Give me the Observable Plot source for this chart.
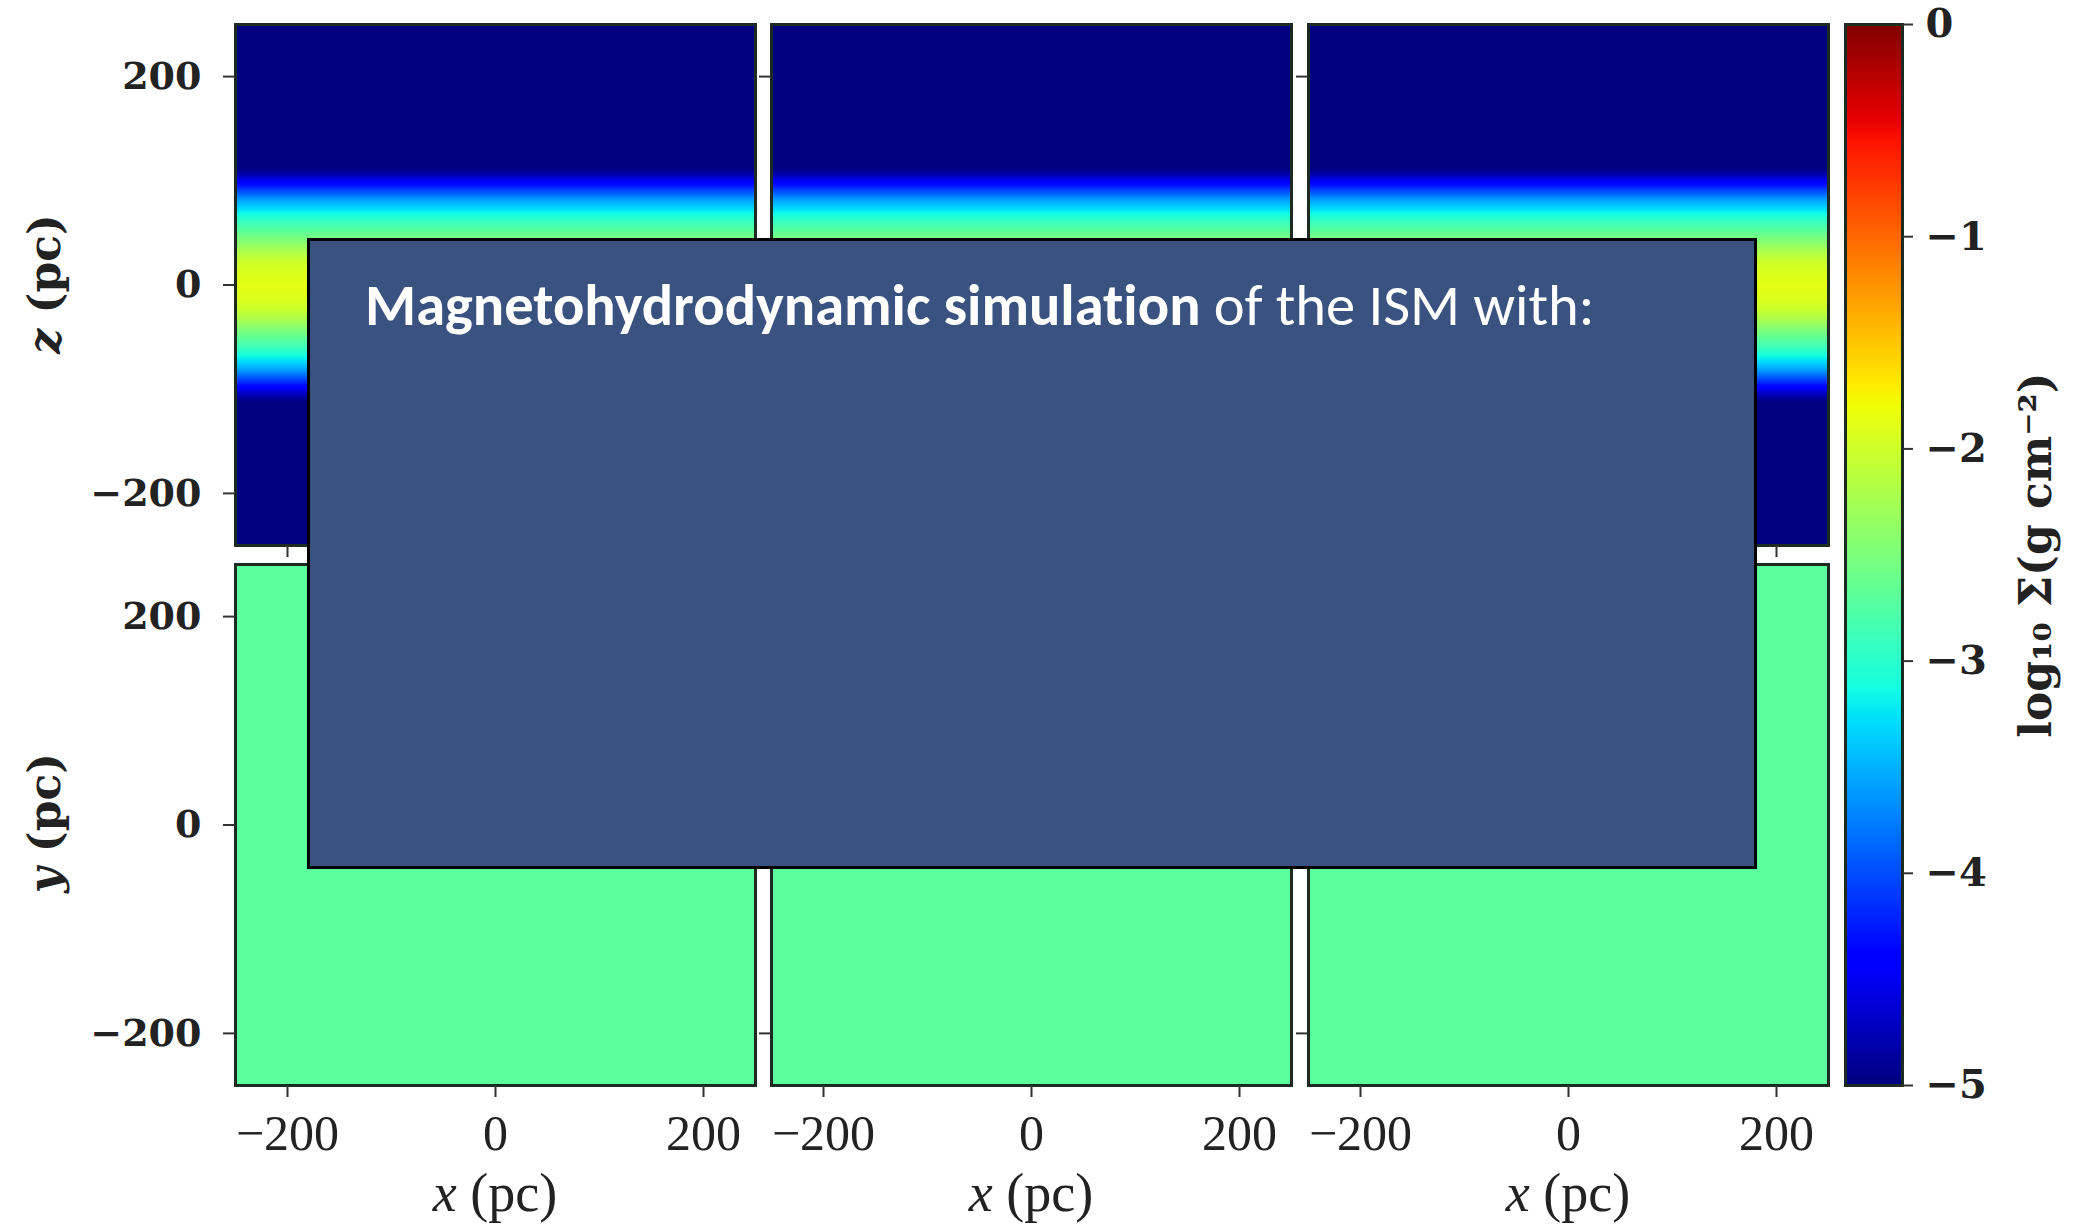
<!DOCTYPE html>
<html>
<head>
<meta charset="utf-8">
<script src="https://cdn.jsdelivr.net/npm/d3@7"></script>
<script src="https://cdn.jsdelivr.net/npm/@observablehq/plot@0.6"></script>
<style>
  html, body { margin: 0; padding: 0; background: #fff; }
  #wrap { position: relative; width: 2074px; height: 1226px; overflow: hidden; background: #fff; }
  .pos { position: absolute; }
  .panel g[aria-label="y-axis tick label"] text { font-family: "DejaVu Serif", serif; font-weight: bold; font-size: 38px; fill: #222; }
  .panel g[aria-label="x-axis tick label"] text { font-family: "Liberation Serif", serif; font-size: 50px; fill: #222; }
  .cbar g[aria-label="y-axis tick label"] text { font-family: "DejaVu Serif", serif; font-weight: bold; font-size: 40px; fill: #222; }
  .ttl { position: absolute; white-space: nowrap; color: #222; transform: translate(-50%, -50%); line-height: 1.1; }
  .ttl.rot { transform: translate(-50%, -50%) rotate(-90deg); }
  #box { position: absolute; left: 307px; top: 238px; width: 1444px; height: 625px; background: #3A5280; border: 3px solid #000; }
  #boxtext { position: absolute; left: 365px; top: 276px; color: #fff; font-family: Carlito, Calibri, Lato, sans-serif; font-size: 58.5px; line-height: 1; white-space: nowrap; font-variant-ligatures: none; font-feature-settings: "liga" 0; }
</style>
</head>
<body>
<div id="wrap"></div>
<script>
// ---------- data ----------
const columns = [0, 1, 2];                 // three simulation snapshots
const rows = ["xz", "xy"];                 // edge-on (x–z) and face-on (x–y) projections
const axisTicks = [-200, 0, 200];
const colorbarTicks = [0, -1, -2, -3, -4, -5];
// vertical profile of log10 Σ in the edge-on panels
const zLevels =     [-250, -112, -105, -98, -90, -82, -72, -62, -52, -42, -32, -22, -12, 0, 12, 22, 32, 42, 52, 62, 72, 82, 90, 98, 105, 112, 250];
const sigmaLevels = [-5, -5, -4.75, -4.4, -4.0, -3.6, -3.25, -2.95, -2.7, -2.45, -2.2, -2.0, -1.92, -1.87, -1.92, -2.0, -2.2, -2.45, -2.7, -2.95, -3.25, -3.6, -4.0, -4.4, -4.75, -5, -5];
// face-on panels are uniform
const faceOnSigma = -2.7;
const boxEdges = [-250, 250];
const sigmaDomain = [-5, 0];
const colorbarLabel = "log\u2081\u2080 \u03a3(g cm\u207b\u00b2)";

// ---------- jet colormap ----------
const jetStops = [0, 0.11, 0.125, 0.34, 0.35, 0.375, 0.64, 0.65, 0.66, 0.89, 0.91, 1];
function seg(t, pts) {
  for (let i = 1; i < pts.length; i++) {
    if (t <= pts[i][0]) {
      const [t0, v0] = pts[i - 1], [t1, v1] = pts[i];
      return v0 + (v1 - v0) * (t - t0) / (t1 - t0);
    }
  }
  return pts[pts.length - 1][1];
}
function jet(t) {
  const r = seg(t, [[0, 0], [0.35, 0], [0.66, 1], [0.89, 1], [1, 0.5]]);
  const g = seg(t, [[0, 0], [0.125, 0], [0.375, 1], [0.64, 1], [0.91, 0], [1, 0]]);
  const b = seg(t, [[0, 0.5], [0.11, 1], [0.34, 1], [0.65, 0], [1, 0]]);
  return d3.rgb(r * 255, g * 255, b * 255).formatHex();
}
const colorScale = {
  type: "linear",
  domain: jetStops.map(f => sigmaDomain[0] + (sigmaDomain[1] - sigmaDomain[0]) * f),
  range: jetStops.map(jet),
  interpolate: "rgb",
  clamp: true
};
const fmt = d => d3.format("d")(d).replace("-", "\u2212");

// ---------- tables ----------
const edgeOn = zLevels.flatMap((z, i) => boxEdges.map(x => ({x, y: z, v: sigmaLevels[i]})));
const faceOn = boxEdges.flatMap(x => boxEdges.map(y => ({x, y, v: faceOnSigma})));

// ---------- layout ----------
const colLeft = [235, 771, 1308];
const rowTop = [24, 564];
const PW = 520, PH = 521;
const wrap = document.getElementById("wrap");

function panel(r, c) {
  const isLeft = c === 0, isBottom = r === 1;
  const ml = isLeft ? 235 : 16, mb = isBottom ? 90 : 16, mt = 3, mr = 3;
  const data = r === 0 ? edgeOn : faceOn;
  const p = Plot.plot({
    width: PW + ml + mr,
    height: PH + mt + mb,
    marginLeft: ml, marginRight: mr, marginTop: mt, marginBottom: mb,
    x: {domain: boxEdges},
    y: {domain: boxEdges},
    color: colorScale,
    style: {background: "transparent", overflow: "visible"},
    marks: [
      Plot.raster(data, {x: "x", y: "y", fill: "v", interpolate: "barycentric",
        x1: boxEdges[0], x2: boxEdges[1], y1: boxEdges[0], y2: boxEdges[1]}),
      Plot.frame({stroke: "#1c2a22", strokeWidth: 3}),
      Plot.axisY({ticks: axisTicks, tickSize: 12, tickPadding: 22, label: null, stroke: "#333", strokeWidth: 2,
        tickFormat: isLeft ? fmt : () => ""}),
      Plot.axisX({ticks: axisTicks, tickSize: 12, tickPadding: 17, label: null, stroke: "#333", strokeWidth: 2,
        tickFormat: isBottom ? fmt : () => ""})
    ]
  });
  p.classList.add("panel", "pos");
  p.style.left = (colLeft[c] - ml) + "px";
  p.style.top = (rowTop[r] - mt) + "px";
  wrap.appendChild(p);
}
rows.forEach((_, r) => columns.forEach(c => panel(r, c)));

// ---------- colorbar ----------
(function () {
  const left = 1845, w = 57, top = 24, h = 1061;
  const ml = 3, mt = 3, mr = 2074 - (left + w), mb = 30;
  const cb = Plot.plot({
    width: ml + w + mr, height: mt + h + mb,
    marginLeft: ml, marginRight: mr, marginTop: mt, marginBottom: mb,
    x: {domain: [0, 1], axis: null},
    y: {domain: sigmaDomain},
    color: colorScale,
    style: {background: "transparent", overflow: "visible"},
    marks: [
      Plot.raster({x1: 0, x2: 1, y1: sigmaDomain[0], y2: sigmaDomain[1], fill: (x, y) => y, pixelSize: 1}),
      Plot.frame({stroke: "#1c2a22", strokeWidth: 3}),
      Plot.axisY({anchor: "right", ticks: colorbarTicks, tickSize: 10, tickPadding: 13, label: null,
        stroke: "#333", strokeWidth: 2, tickFormat: fmt}),
      Plot.text([colorbarLabel], {frameAnchor: "right", dx: 134, rotate: -90, textAnchor: "middle",
        fontFamily: "DejaVu Serif", fontWeight: "bold", fontSize: 44, fill: "#222"})
    ]
  });
  cb.classList.add("cbar", "pos");
  cb.style.left = (left - ml) + "px";
  cb.style.top = (top - mt) + "px";
  wrap.appendChild(cb);
})();

// ---------- axis titles ----------
function title(html, x, y, cls, font) {
  const d = document.createElement("div");
  d.className = "ttl " + cls;
  d.style.left = x + "px"; d.style.top = y + "px";
  d.style.font = font;
  d.innerHTML = html;
  wrap.appendChild(d);
}
title("<i>z</i> (pc)", 44, 284, "rot", "bold 44px 'DejaVu Serif', serif");
title("<i>y</i> (pc)", 44, 823, "rot", "bold 44px 'DejaVu Serif', serif");
colLeft.forEach(l => title("<i>x</i> (pc)", l + PW / 2, 1193, "", "54px 'Liberation Serif', serif"));

// ---------- overlay box ----------
const box = document.createElement("div"); box.id = "box"; wrap.appendChild(box);
const bt = document.createElement("div"); bt.id = "boxtext";
bt.innerHTML = "<b>Magnetohydrodynamic simulation</b> of the ISM with:";
wrap.appendChild(bt);
</script>
</body>
</html>
